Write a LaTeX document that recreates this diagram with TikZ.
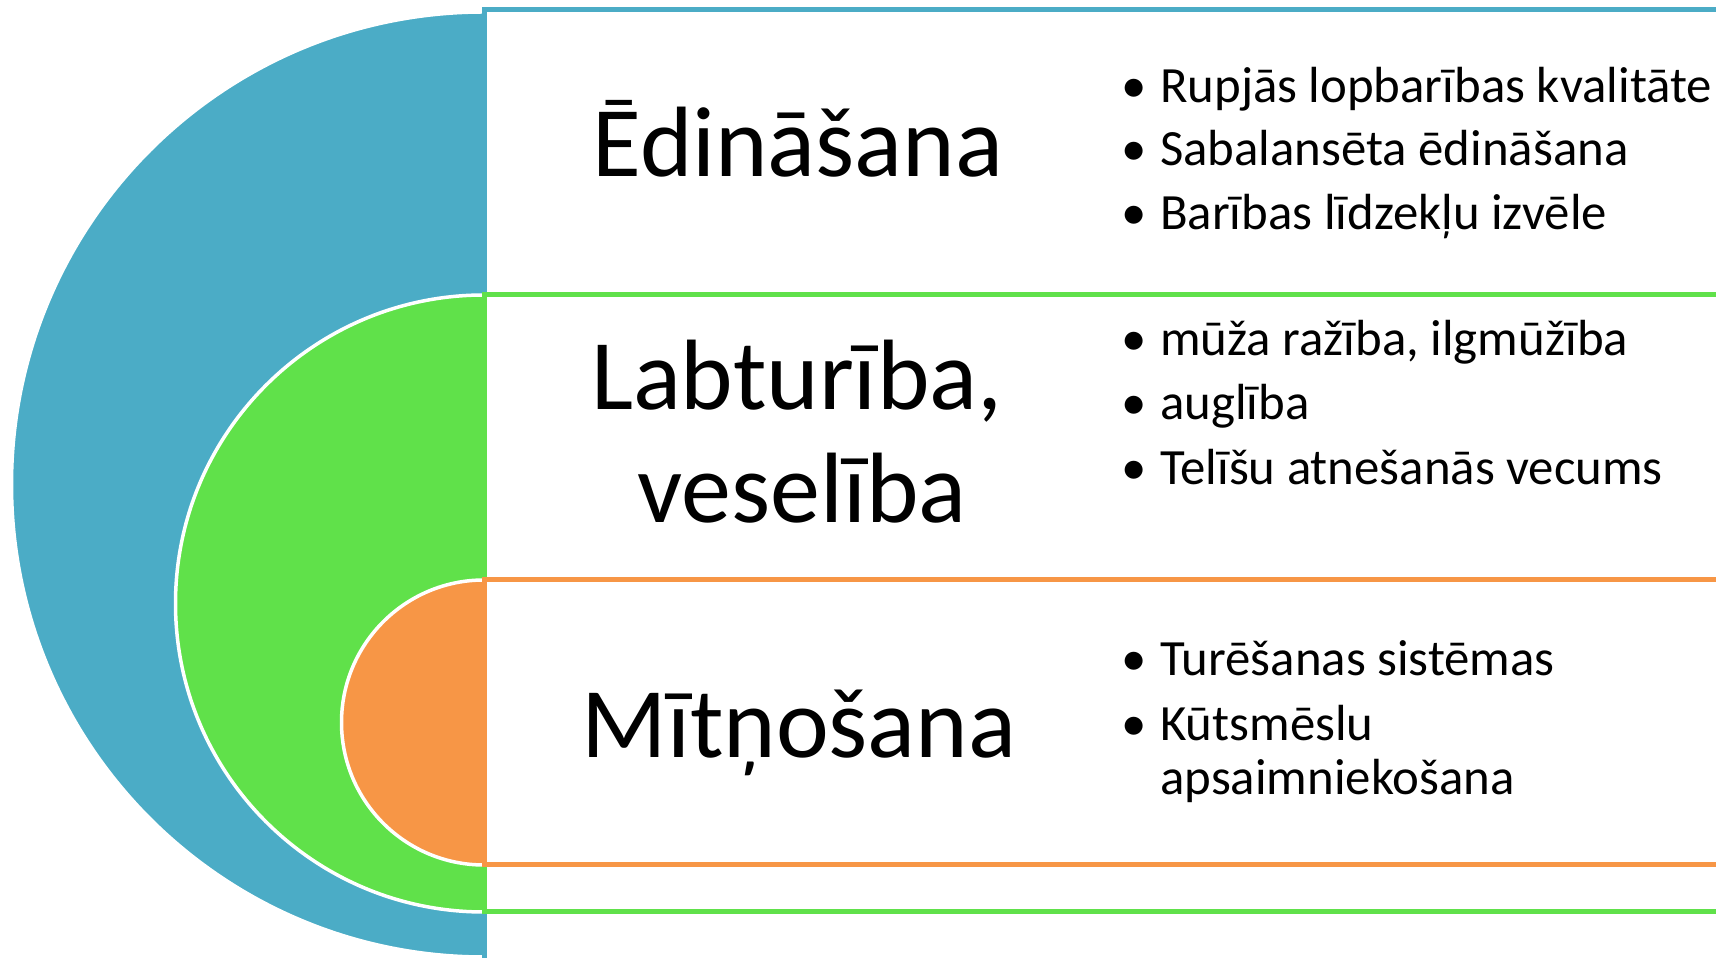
\documentclass[tikz,border=0pt]{standalone}
\usepackage{fontspec}
\setmainfont{Carlito}
\definecolor{cblue}{HTML}{4BACC6}
\definecolor{cgreen}{HTML}{60E14A}
\definecolor{corange}{HTML}{F79646}
\tikzset{
  half/.style={draw=white, line width=3.5pt},
  panel/.style={fill=white, line width=5pt},
  head/.style={anchor=base, inner sep=0pt, font=\fontsize{100}{113}\selectfont},
  item/.style={anchor=base west, inner sep=0pt, font=\fontsize{50.8}{55}\selectfont},
}
\newcommand{\bul}{\llap{•\hskip 13pt}}
\begin{document}
\begin{tikzpicture}[x=1pt,y=1pt]
\useasboundingbox (0,0) rectangle (1716,958);
% blue level
\fill[cblue, half] (484,946) arc[start angle=90, end angle=270, radius=472.5] -- cycle;
\draw[panel, draw=cblue] (484,948) rectangle (1740,-4);
% green level
\fill[cgreen, half] (484,663) arc[start angle=90, end angle=270, radius=308.5] -- cycle;
\draw[panel, draw=cgreen] (484,663) rectangle (1740,46);
% orange level
\fill[corange, half] (484,378) arc[start angle=90, end angle=270, radius=142.5] -- cycle;
\draw[panel, draw=corange] (484,378) rectangle (1740,93);
% headings
\node[head] (h1) at (798,781) {Ēdināšana};
\node[head] (h2a) at (797,548) {Labturība,};
\node[head] (h2b) at (802,435) {veselība};
\node[head] (h3) at (799,200) {Mītņošana};
% items
\node[item] (a1) at (1160,855) {\bul Rupjās lopbarības kvalitāte};
\node[item] (a2) at (1160,792) {\bul Sabalansēta ēdināšana};
\node[item] (a3) at (1160,728) {\bul Barības līdzekļu izvēle};
\node[item] (b1) at (1160,602) {\bul mūža ražība, ilgmūžība};
\node[item] (b2) at (1160,538) {\bul auglība};
\node[item] (b3) at (1160,473) {\bul Telīšu atnešanās vecums};
\node[item] (c1) at (1160,282) {\bul Turēšanas sistēmas};
\node[item] (c2) at (1160,217) {\bul Kūtsmēslu};
\node[item] (c3) at (1160,163) {apsaimniekošana};
\end{tikzpicture}
\end{document}
